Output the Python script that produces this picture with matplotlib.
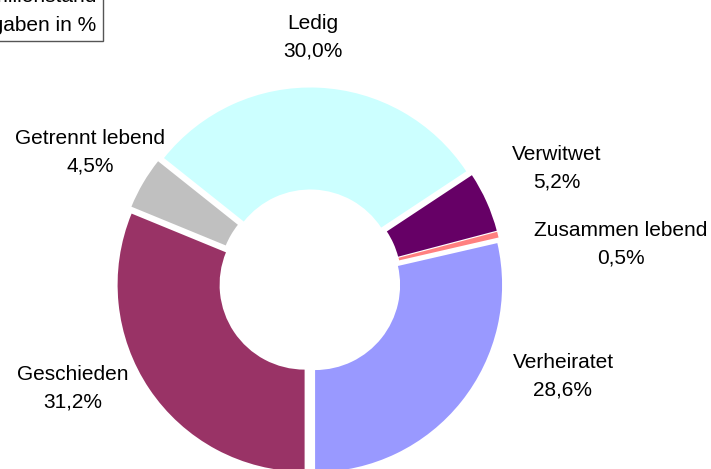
import matplotlib
matplotlib.use("Agg")
import matplotlib.pyplot as plt

plt.rcParams['font.family'] = ['Liberation Sans', 'DejaVu Sans']

# clockwise from 6 o'clock
categories = ['Geschieden', 'Getrennt lebend', 'Ledig', 'Verwitwet',
              'Zusammen lebend', 'Verheiratet']
shares = [31.2, 4.5, 30.0, 5.2, 0.5, 28.6]
colors = ['#993366', '#C0C0C0', '#CCFFFF', '#660066', '#FF8080', '#9999FF']

# label centres in pixels (x from left, y from top)
label_pos = [(73, 388), (90, 152), (313, 37), (557, 168), (621, 244), (563, 376)]

W, H = 711, 469
fig = plt.figure(figsize=(W / 100, H / 100), dpi=100)
ax = fig.add_axes([0, 0, 1, 1])

R = 187
# explode is in data units here (1 unit = 1 pixel)
ax.pie(shares, colors=colors, startangle=270, counterclock=False,
       radius=R, center=(310, H - 281), explode=[6.5] * len(shares),
       wedgeprops=dict(width=102, linewidth=0, antialiased=True), frame=True)

ax.set_xlim(0, W)
ax.set_ylim(0, H)
ax.set_aspect('equal')
ax.axis('off')

for name, val, (x, y) in zip(categories, shares, label_pos):
    txt = name + '\n' + ('%.1f' % val).replace('.', ',') + '%'
    ax.text(x, H - y, txt, ha='center', va='center', fontsize=15,
            linespacing=1.55)

# box in the top left corner, partly cut off like in the original
ax.text(-34, H - 31, 'Familienstand\nAngaben in %', ha='left', va='baseline',
        fontsize=15, linespacing=1.7,
        bbox=dict(boxstyle='square,pad=0.3', facecolor='white',
                  edgecolor='#555555', linewidth=1))

fig.savefig('out.png', dpi=100)
